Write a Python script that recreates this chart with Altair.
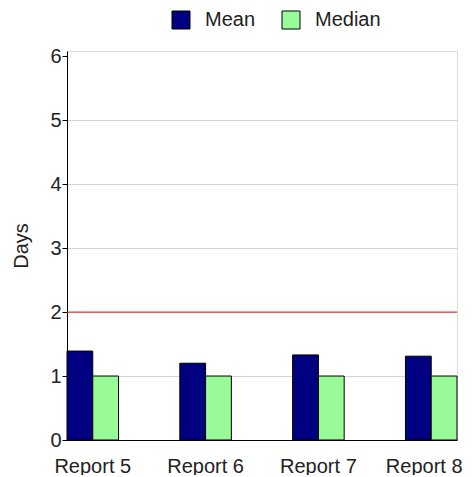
import altair as alt
import pandas as pd

reports = ["Report 5", "Report 6", "Report 7", "Report 8"]
mean_days = [1.39, 1.20, 1.33, 1.31]
median_days = [1.0, 1.0, 1.0, 1.0]
series = ["Mean", "Median"]
colors = ["#000080", "#98FB98"]
target = [2]
y_ticks = [0, 1, 2, 3, 4, 5, 6]

rows = []
for r, m, md in zip(reports, mean_days, median_days):
    rows.append({"report": r, "stat": "Mean", "value": m})
    rows.append({"report": r, "stat": "Median", "value": md})
df = pd.DataFrame(rows)
tdf = pd.DataFrame({"target": target})

FONT = "Liberation Sans"
TXT = "#222222"

yscale = alt.Scale(domain=[0, 6.08], nice=False, zero=True)

bars = alt.Chart(df).mark_bar(stroke="black", strokeWidth=1).encode(
    x=alt.X("report:N", sort=reports,
            scale=alt.Scale(paddingInner=0.543, paddingOuter=0),
            axis=alt.Axis(title=None, labelAngle=0, ticks=False, tickSize=0,
                          labelPadding=16, labelFontSize=20, labelFont=FONT,
                          labelColor=TXT, domainColor="black", grid=False,
                          labelOffset=alt.condition("datum.value == 'Report 8'", alt.value(-7), alt.value(0)))),
    xOffset=alt.XOffset("stat:N", sort=series, scale=alt.Scale(paddingInner=0, paddingOuter=0)),
    y=alt.Y("value:Q", scale=yscale,
            axis=alt.Axis(title="Days", values=y_ticks, format="d", tickSize=5, labelPadding=1,
                          tickColor="black", domainColor="black",
                          labelFontSize=20, labelFont=FONT, labelColor=TXT,
                          titleFontSize=20, titleFont=FONT, titleColor=TXT,
                          titleFontWeight="normal", titleAngle=-90,
                          titleX=-40, titleY=194.5, titleBaseline="alphabetic",
                          titleAlign="center",
                          gridColor="#d3d3d3",
                          gridOpacity=alt.condition("datum.value >= 6", alt.value(0), alt.value(1)))),
    color=alt.Color("stat:N", sort=series,
                    scale=alt.Scale(domain=series, range=colors),
                    legend=alt.Legend(title=None, orient="none", legendX=104, legendY=-41,
                                      direction="horizontal", symbolType="square",
                                      symbolSize=324, symbolStrokeColor="black",
                                      symbolStrokeWidth=1, labelFontSize=20,
                                      labelFont=FONT, labelColor=TXT, labelOffset=14,
                                      columnPadding=24, padding=0)),
)

rule = alt.Chart(tdf).mark_rule(color="#ff3030", strokeWidth=1.2).encode(
    y=alt.Y("target:Q", scale=yscale)
)

chart = alt.layer(bars, rule).properties(
    width=390, height=389,
    autosize=alt.AutoSizeParams(type="none"),
    padding={"left": 59, "top": 43, "right": 8, "bottom": 35},
).configure_view(stroke="black", strokeWidth=1).configure(background="white")

chart.save("out.html", embed_options={"renderer": "svg", "actions": False})
